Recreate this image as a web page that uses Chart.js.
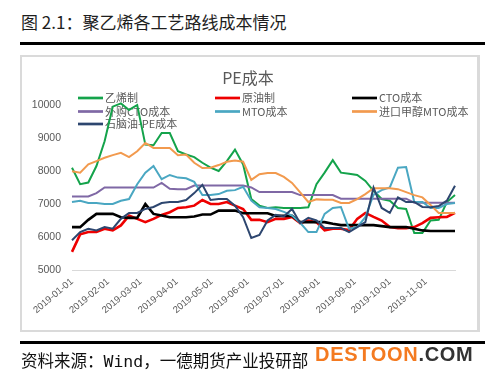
<!DOCTYPE html>
<html>
<head>
<meta charset="utf-8">
<script src="https://cdn.jsdelivr.net/npm/chart.js@4.4.0/dist/chart.umd.min.js"></script>
<style>
  html, body { margin: 0; padding: 0; background: #fff; }
  #page { position: relative; width: 488px; height: 378px; overflow: hidden; font-family: "Noto Sans CJK SC", sans-serif; }
  #head { position: absolute; left: 21px; top: 10px; font-size: 17px; line-height: 24px; color: #1e1e1e; white-space: nowrap; }
  .rule { position: absolute; left: 20px; width: 465px; height: 3px; background: #000; }
  #box { position: absolute; left: 20px; top: 55px; width: 460px; height: 277px; box-sizing: border-box; border: 2px solid #dadada; border-right-width: 3px; }
  #wrap { position: absolute; left: 0; top: 0; width: 488px; height: 378px; }
  #src { position: absolute; left: 21px; top: 350px; font-size: 16.5px; line-height: 24px; color: #111; white-space: nowrap;
         font-family: "DejaVu Sans Mono", "Noto Sans CJK SC", monospace; }
  #mark { position: absolute; left: 315px; top: 344px; font: bold 20px/20px "Liberation Sans", Arial, sans-serif; letter-spacing: 0.7px; white-space: nowrap; }
  #mark .a { color: #f47a20; }
  #mark .b { color: #333; }
</style>
</head>
<body>
<div id="page">
  <div id="head">图 2.1：聚乙烯各工艺路线成本情况</div>
  <div class="rule" style="top:42px"></div>
  <div id="box"></div>
  <div id="wrap"><canvas id="pe-cost"></canvas></div>
  <div class="rule" style="top:341px"></div>
  <div id="src">资料来源：Wind，一德期货产业投研部</div>
  <div id="mark"><span class="a">DESTOON</span><span class="b">.COM</span></div>
</div>
<script>
// weekly samples (元/吨)
const dates = [
  '2019-01-01', '2019-01-08', '2019-01-15', '2019-01-22', '2019-01-29',
  '2019-02-05', '2019-02-12', '2019-02-19', '2019-02-26',
  '2019-03-05', '2019-03-12', '2019-03-19', '2019-03-26',
  '2019-04-02', '2019-04-09', '2019-04-16', '2019-04-23', '2019-04-30',
  '2019-05-07', '2019-05-14', '2019-05-21', '2019-05-28',
  '2019-06-04', '2019-06-11', '2019-06-18', '2019-06-25',
  '2019-07-02', '2019-07-09', '2019-07-16', '2019-07-23', '2019-07-30',
  '2019-08-06', '2019-08-13', '2019-08-20', '2019-08-27',
  '2019-09-03', '2019-09-10', '2019-09-17', '2019-09-24',
  '2019-10-01', '2019-10-08', '2019-10-15', '2019-10-22', '2019-10-29',
  '2019-11-05', '2019-11-12', '2019-11-19', '2019-11-26',
];
const monthTicks = [
  '2019-01-01', '2019-02-01', '2019-03-01', '2019-04-01', '2019-05-01', '2019-06-01',
  '2019-07-01', '2019-08-01', '2019-09-01', '2019-10-01', '2019-11-01',
];
const yTicks = [5000, 6000, 7000, 8000, 9000, 10000];

const ethylene = [
  8100, 7600, 7650, 8150, 8900, 9950, 10050, 9850, 10000, 8800, 8780, 9150, 9150, 8600, 8500, 8420,
  8250, 8100, 8000, 8300, 8650, 8200, 7150, 6950, 6880, 6900, 6880, 6880, 6880, 6900, 7600, 7950,
  8330, 7950, 7920, 7880, 7700, 7400, 7150, 7100, 6880, 6850, 6120, 6120, 6500, 6520, 7060, 7270,
];
const crude = [
  5550, 6080, 6150, 6150, 6250, 6200, 6350, 6650, 6550, 6450, 6550, 6670, 6750, 6880, 6900, 6950,
  7120, 7000, 7000, 7060, 6950, 6850, 6520, 6520, 6450, 6550, 6550, 6610, 6420, 6500, 6450, 6200,
  6250, 6250, 6210, 6550, 6730, 6610, 6500, 6300, 6270, 6270, 6300, 6420, 6580, 6600, 6610, 6730,
];
const cto = [
  6300, 6300, 6520, 6700, 6700, 6700, 6600, 6580, 6580, 7000, 6700, 6650, 6600, 6600, 6600, 6620,
  6680, 6680, 6800, 6800, 6800, 6720, 6720, 6720, 6720, 6640, 6640, 6640, 6450, 6450, 6450, 6450,
  6400, 6360, 6360, 6360, 6360, 6360, 6330, 6300, 6300, 6300, 6250, 6200, 6180, 6180, 6180, 6180,
];
const ctoPurchased = [
  7230, 7230, 7230, 7330, 7500, 7500, 7500, 7500, 7500, 7500, 7500, 7640, 7460, 7450, 7450, 7560,
  7560, 7560, 7560, 7560, 7560, 7560, 7500, 7360, 7360, 7360, 7360, 7360, 7270, 7270, 7270, 7270,
  7270, 7160, 7160, 7160, 7160, 7160, 7160, 7160, 7160, 7160, 7040, 7040, 7040, 7040, 7040, 7040,
];
const mto = [
  7060, 7100, 7030, 7030, 7000, 7000, 7100, 7150, 7600, 7950, 8150, 7750, 7880, 7800, 7780, 7670,
  7270, 7270, 7300, 7400, 7420, 7520, 7100, 6900, 6880, 6850, 6760, 6650, 6430, 6150, 6150, 6700,
  6880, 6910, 6250, 6300, 6600, 7280, 7420, 7500, 8100, 8120, 7060, 7060, 6880, 6880, 7000, 7030,
];
const mtoImported = [
  7990, 7950, 8200, 8300, 8400, 8480, 8550, 8420, 8600, 8850, 8700, 8700, 8700, 8480, 8500, 8250,
  8090, 8100, 8180, 8280, 8320, 8280, 7730, 7900, 7940, 7940, 7820, 7640, 7350, 7060, 7140, 7130,
  7130, 7030, 7030, 7150, 7300, 7480, 7480, 7480, 7450, 7360, 7270, 7200, 6970, 6730, 6730, 6730,
];
const naphtha = [
  5900, 6150, 6250, 6200, 6300, 6250, 6550, 6730, 6730, 6850, 6910, 7030, 7060, 7060, 7120, 7330,
  7580, 7120, 7150, 7150, 6950, 6600, 5970, 6060, 6500, 6670, 6620, 6850, 6420, 6580, 6500, 6270,
  6270, 6270, 6150, 6300, 6450, 7500, 6880, 6730, 7200, 7060, 7060, 6910, 6900, 6940, 7100, 7550,
];

const series = [
  { label: '乙烯制', data: ethylene, color: '#14a34b', width: 2 },
  { label: '原油制', data: crude, color: '#ee0000', width: 2.6 },
  { label: 'CTO成本', data: cto, color: '#000000', width: 2.6 },
  { label: '外购CTO成本', data: ctoPurchased, color: '#7f68a5', width: 2 },
  { label: 'MTO成本', data: mto, color: '#4aa7c2', width: 2 },
  { label: '进口甲醇MTO成本', data: mtoImported, color: '#f29a4e', width: 2 },
  { label: '石脑油-PE成本', data: naphtha, color: '#2d466f', width: 2 },
];

const dayOf = (s) => (Date.parse(s) - Date.parse(dates[0])) / 864e5;
const days = dates.map(dayOf);

const txt = '#595959';
const cjk = '"Noto Sans CJK SC", sans-serif';

// title + legend sit inside the plot, lines are drawn over the legend
const overlay = {
  id: 'overlay',
  beforeDatasetsDraw(chart) {
    const ctx = chart.ctx;
    ctx.save();
    ctx.fillStyle = txt;
    ctx.font = '16px ' + cjk;
    ctx.textAlign = 'center';
    ctx.textBaseline = 'middle';
    ctx.fillText('PE成本', 248, 77.5);

    const cols = [78, 215, 352];
    const rows = [98, 111.5, 124];
    ctx.font = '11px ' + cjk;
    ctx.textAlign = 'left';
    series.forEach((s, i) => {
      const x = cols[i % 3];
      const y = rows[Math.floor(i / 3)];
      ctx.strokeStyle = s.color;
      ctx.lineWidth = 2.7;
      ctx.beginPath();
      ctx.moveTo(x, y);
      ctx.lineTo(x + 25, y);
      ctx.stroke();
      ctx.fillText(s.label, x + 27, y);
    });
    ctx.restore();
  },
};

new Chart(document.getElementById('pe-cost'), {
  type: 'line',
  data: {
    datasets: series.map((s, i) => ({
      label: s.label,
      data: s.data.map((v, j) => ({ x: days[j], y: v })),
      borderColor: s.color,
      backgroundColor: s.color,
      borderWidth: s.width,
      pointRadius: 0,
      tension: 0,
      clip: false,
      order: series.length - i,
    })),
  },
  options: {
    responsive: true,
    maintainAspectRatio: false,
    animation: false,
    events: [],
    layout: { padding: { left: 22, right: 33, top: 105, bottom: 48 } },
    plugins: { legend: { display: false }, title: { display: false }, tooltip: { enabled: false } },
    scales: {
      x: {
        type: 'linear',
        min: 0,
        max: days[days.length - 1],
        grid: { display: false, drawTicks: false },
        border: { display: true, color: '#d9d9d9', width: 1 },
        afterBuildTicks: (scale) => { scale.ticks = monthTicks.map((t) => ({ value: dayOf(t) })); },
        afterFit: (scale) => { scale.height = 60; },
        ticks: {
          autoSkip: false,
          minRotation: 40,
          maxRotation: 40,
          padding: 6,
          color: txt,
          font: { size: 9.5, family: '"Liberation Sans", Arial, sans-serif' },
          callback: (v) => monthTicks.find((t) => dayOf(t) === v) || '',
        },
      },
      y: {
        min: yTicks[0],
        max: yTicks[yTicks.length - 1],
        grid: { display: false, drawTicks: false },
        border: { display: false },
        afterBuildTicks: (scale) => { scale.ticks = yTicks.map((v) => ({ value: v })); },
        afterFit: (scale) => { scale.width = 50; },
        ticks: {
          padding: 11,
          color: txt,
          font: { size: 10.5, family: '"Liberation Sans", Arial, sans-serif' },
          callback: (v) => String(v),
        },
      },
    },
  },
  plugins: [overlay],
});
</script>
</body>
</html>
